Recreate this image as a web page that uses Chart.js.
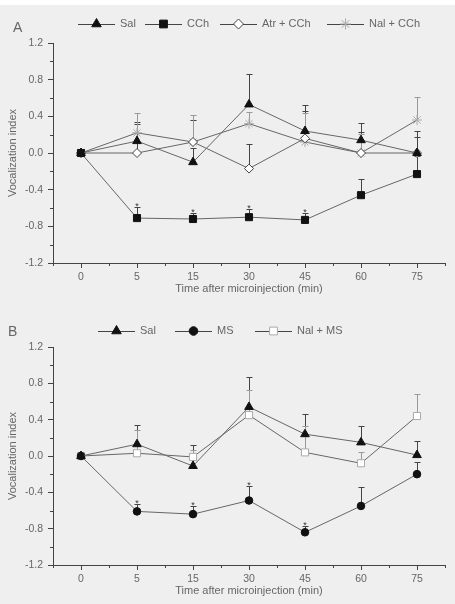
<!DOCTYPE html>
<html>
<head>
<meta charset="utf-8">
<script src="https://cdn.jsdelivr.net/npm/chart.js@4"></script>
<style>
  html, body { margin: 0; padding: 0; background: #efefef; }
  #wrap { position: relative; width: 455px; height: 604px; overflow: hidden; }
  #strip { position: absolute; left: 0; top: 0; width: 455px; height: 5px; background: #fff; }
  .box { position: absolute; left: 0; width: 455px; }
</style>
</head>
<body>
<div id="wrap">
  <div id="strip"></div>
  <div class="box" style="top:0;height:300px"><canvas id="chartA"></canvas></div>
  <div class="box" style="top:300px;height:304px"><canvas id="chartB"></canvas></div>
</div>
<script>
// x categories (min after microinjection)
const times = ['0', '5', '15', '30', '45', '60', '75'];
const yTickValues = [-1.2, -0.8, -0.4, 0, 0.4, 0.8, 1.2];
const yMinorValues = [-1.0, -0.6, -0.2, 0.2, 0.6, 1.0];

// Panel A
const salA      = [0, 0.13, -0.10, 0.53, 0.24, 0.14, 0.00];
const salASem   = [0, 0.21, 0.16, 0.33, 0.28, 0.19, 0.24];
const cch       = [0, -0.71, -0.72, -0.70, -0.73, -0.46, -0.23];
const cchSem    = [0, 0.12, 0.07, 0.09, 0.08, 0.18, 0.20];
const cchSig    = [false, true, true, true, true, false, false];
const atrCch    = [0, 0.00, 0.12, -0.17, 0.16, 0.00, 0.00];
const atrCchSem = [0, 0.32, 0.24, 0.27, 0.30, 0.23, 0.17];
const nalCch    = [0, 0.22, 0.12, 0.32, 0.12, 0.00, 0.36];
const nalCchSem = [0, 0.22, 0.29, 0.13, 0.32, 0.21, 0.25];

// Panel B
const salB      = [0, 0.13, -0.11, 0.54, 0.24, 0.15, 0.01];
const salBSem   = [0, 0.21, 0.23, 0.33, 0.22, 0.18, 0.16];
const ms        = [0, -0.61, -0.64, -0.49, -0.84, -0.55, -0.20];
const msSem     = [0, 0.08, 0.09, 0.16, 0.07, 0.21, 0.13];
const msSig     = [false, true, true, true, true, false, false];
const nalMs     = [0, 0.03, -0.01, 0.45, 0.04, -0.08, 0.44];
const nalMsSem  = [0, 0.26, 0.08, 0.28, 0.29, 0.12, 0.24];

const FONT = '"Liberation Sans", Arial, sans-serif';
const textColor = '#666';
const axisColor = '#444';
const lineColor = '#666';

// upward error bars + significance stars
const errorBars = {
  id: 'errorBars',
  beforeDatasetsDraw(chart) {
    const ctx = chart.ctx, y = chart.scales.y;
    chart.data.datasets.forEach((ds, i) => {
      const meta = chart.getDatasetMeta(i);
      ctx.save();
      ctx.strokeStyle = ds.errColor || axisColor;
      ctx.lineWidth = 1;
      meta.data.forEach((pt, j) => {
        const e = ds.sem ? ds.sem[j] : 0;
        if (!e) return;
        const px = Math.round(pt.x) + 0.5;
        const top = Math.round(y.getPixelForValue(ds.data[j] + e)) + 0.5;
        ctx.beginPath();
        ctx.moveTo(px, pt.y);
        ctx.lineTo(px, top);
        ctx.moveTo(px - 3, top);
        ctx.lineTo(px + 3, top);
        ctx.stroke();
        if (ds.sig && ds.sig[j]) {
          ctx.fillStyle = '#333';
          ctx.font = '9px ' + FONT;
          ctx.textAlign = 'center';
          ctx.textBaseline = 'alphabetic';
          ctx.fillText('*', pt.x, top + 1);
        }
      });
      ctx.restore();
    });
  }
};

// minor ticks, legend with line+marker, panel letter
const extras = {
  id: 'extras',
  afterDraw(chart, args, opts) {
    const ctx = chart.ctx, x = chart.scales.x, y = chart.scales.y, a = chart.chartArea;
    ctx.save();
    ctx.strokeStyle = axisColor;
    ctx.lineWidth = 1;
    ctx.beginPath();
    yMinorValues.forEach(v => {
      const py = Math.round(y.getPixelForValue(v)) + 0.5;
      ctx.moveTo(a.left - 3, py);
      ctx.lineTo(a.left, py);
    });
    for (let i = 0; i <= times.length; i++) {
      const px = Math.round(x.getPixelForValue(i - 0.5)) + 0.5;
      ctx.moveTo(px, a.bottom);
      ctx.lineTo(px, a.bottom + 3);
    }
    ctx.stroke();

    // legend
    const ly = opts.legendY;
    chart.data.datasets.forEach((ds, i) => {
      const sx = opts.legendX[i];
      ctx.strokeStyle = '#444';
      ctx.lineWidth = 1;
      ctx.beginPath();
      ctx.moveTo(sx, ly + 0.5);
      ctx.lineTo(sx + 37, ly + 0.5);
      ctx.stroke();
      ctx.fillStyle = ds.pointBackgroundColor;
      ctx.strokeStyle = ds.pointBorderColor;
      ctx.lineWidth = ds.pointBorderWidth || 1;
      Chart.helpers.drawPoint(ctx, {
        pointStyle: ds.pointStyle, radius: ds.pointRadius + 0.5, rotation: 0,
        borderWidth: ds.pointBorderWidth || 1
      }, sx + 18.5, ly);
      ctx.fillStyle = textColor;
      ctx.font = '11px ' + FONT;
      ctx.textAlign = 'left';
      ctx.textBaseline = 'middle';
      ctx.fillText(ds.label, sx + 42, ly);
    });

    ctx.fillStyle = textColor;
    ctx.font = '14px ' + FONT;
    ctx.textAlign = 'left';
    ctx.textBaseline = 'middle';
    ctx.fillText(opts.letter, opts.letterX, opts.letterY);
    ctx.restore();
  }
};

function series(label, data, sem, style, radius, fill, border, errColor, sig, order) {
  return {
    label: label, data: data, sem: sem, sig: sig, errColor: errColor,
    borderColor: lineColor, borderWidth: 1, tension: 0, fill: false,
    pointStyle: style, pointRadius: radius, pointHoverRadius: radius,
    pointBackgroundColor: fill, pointBorderColor: border, pointBorderWidth: 1,
    order: order
  };
}

function makeChart(id, datasets, cfg) {
  return new Chart(document.getElementById(id), {
    type: 'line',
    data: { labels: times, datasets: datasets },
    options: {
      responsive: true,
      maintainAspectRatio: false,
      animation: false,
      layout: { padding: { left: 0, right: 10, top: cfg.top, bottom: 0 } },
      plugins: {
        legend: { display: false },
        tooltip: { enabled: false },
        extras: cfg.extras
      },
      scales: {
        x: {
          offset: true,
          afterFit: s => { s.height = cfg.xHeight; },
          grid: { display: true, drawOnChartArea: false, offset: false, tickLength: 5, color: axisColor },
          border: { display: true, color: axisColor },
          ticks: { color: textColor, font: { family: FONT, size: 10.5 }, padding: 3, maxRotation: 0 },
          title: { display: true, text: 'Time after microinjection (min)', color: textColor,
                   font: { family: FONT, size: 11 }, padding: { top: 0, bottom: cfg.titlePad } }
        },
        y: {
          min: -1.2, max: 1.2,
          afterFit: s => { s.width = 53; },
          afterBuildTicks: s => { s.ticks = yTickValues.map(v => ({ value: v })); },
          grid: { display: true, drawOnChartArea: false, tickLength: 5, color: axisColor },
          border: { display: true, color: axisColor },
          ticks: {
            color: textColor, font: { family: FONT, size: 10.5 }, padding: 5,
            callback: v => (Math.abs(v) < 1e-9 ? 0 : v).toFixed(1)
          },
          title: { display: true, text: 'Vocalization index', color: textColor,
                   font: { family: FONT, size: 11 }, padding: { top: 6, bottom: 0 } }
        }
      }
    },
    plugins: [errorBars, extras]
  });
}

makeChart('chartA', [
  series('Sal', salA, salASem, 'triangle', 5, '#111', '#111', axisColor, null, 0),
  series('CCh', cch, cchSem, 'rect', 5, '#111', '#111', axisColor, cchSig, 1),
  series('Atr + CCh', atrCch, atrCchSem, 'rectRot', 4.5, '#fff', '#444', axisColor, null, 2),
  series('Nal + CCh', nalCch, nalCchSem, 'star', 5, '#bbb', '#aaa', '#999', null, 3)
], {
  top: 43, xHeight: 37, titlePad: 4,
  extras: { legendX: [78, 145, 220, 327], legendY: 24, letter: 'A', letterX: 13, letterY: 28 }
});

makeChart('chartB', [
  series('Sal', salB, salBSem, 'triangle', 5, '#111', '#111', axisColor, null, 0),
  series('MS', ms, msSem, 'circle', 3.8, '#111', '#111', axisColor, msSig, 1),
  series('Nal + MS', nalMs, nalMsSem, 'rect', 5, '#fff', '#aaa', '#999', null, 2)
], {
  top: 47, xHeight: 39, titlePad: 6,
  extras: { legendX: [98, 175, 255], legendY: 31, letter: 'B', letterX: 8, letterY: 32 }
});
</script>
</body>
</html>
